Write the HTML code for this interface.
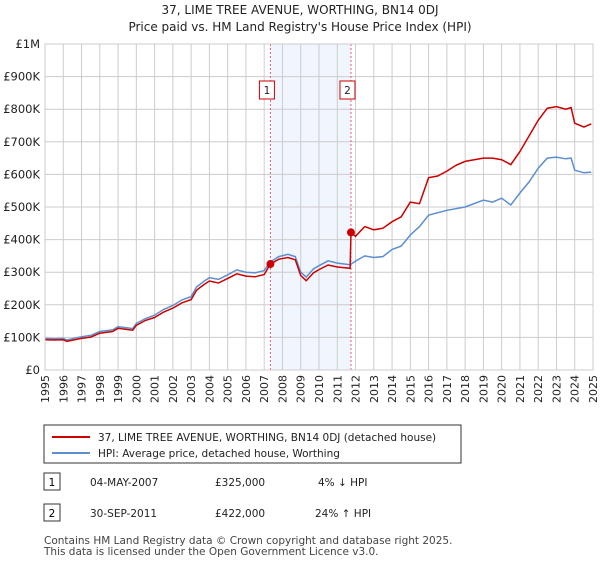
<!DOCTYPE html>
<html><head><meta charset="utf-8"><style>
body{margin:0;background:#fff;font-family:"Liberation Sans","DejaVu Sans",sans-serif;}
svg text{font-family:"DejaVu Sans","Liberation Sans",sans-serif;}
</style></head><body>
<svg width="600" height="560" viewBox="0 0 600 560" xmlns="http://www.w3.org/2000/svg">
<text x="300" y="14" text-anchor="middle" font-size="12" fill="#222">37, LIME TREE AVENUE, WORTHING, BN14 0DJ</text>
<text x="300" y="31" text-anchor="middle" font-size="12" fill="#222">Price paid vs. HM Land Registry's House Price Index (HPI)</text>
<g id="plot"></g>
<rect x="44" y="425" width="417" height="38" fill="#fff" stroke="#333"/>
<line x1="52" y1="437" x2="90" y2="437" stroke="#cc0000" stroke-width="2"/>
<text x="98" y="441" font-size="10.5" fill="#222">37, LIME TREE AVENUE, WORTHING, BN14 0DJ (detached house)</text>
<line x1="52" y1="453" x2="90" y2="453" stroke="#5b8fd0" stroke-width="2"/>
<text x="98" y="457" font-size="10.5" fill="#222">HPI: Average price, detached house, Worthing</text>
<rect x="44" y="473" width="16" height="17" fill="#fff" stroke="#333"/>
<text x="52" y="486" text-anchor="middle" font-size="10.5">1</text>
<text x="90" y="486" font-size="10.5" fill="#222">04-MAY-2007</text>
<text x="215" y="486" font-size="10.5" fill="#222">£325,000</text>
<text x="318" y="486" font-size="10.5" fill="#222">4% ↓ HPI</text>
<rect x="44" y="504" width="16" height="17" fill="#fff" stroke="#333"/>
<text x="52" y="517" text-anchor="middle" font-size="10.5">2</text>
<text x="90" y="517" font-size="10.5" fill="#222">30-SEP-2011</text>
<text x="215" y="517" font-size="10.5" fill="#222">£422,000</text>
<text x="315" y="517" font-size="10.5" fill="#222">24% ↑ HPI</text>
<text x="44" y="544" font-size="10.5" fill="#444">Contains HM Land Registry data © Crown copyright and database right 2025.</text>
<text x="44" y="555" font-size="10.5" fill="#444">This data is licensed under the Open Government Licence v3.0.</text>
</svg>
<script>
const yTicks=[0,100,200,300,400,500,600,700,800,900,1000];
const yTickLabels=["£0","£100K","£200K","£300K","£400K","£500K","£600K","£700K","£800K","£900K","£1M"];
const xTicks=[1995,1996,1997,1998,1999,2000,2001,2002,2003,2004,2005,2006,2007,2008,2009,2010,2011,2012,2013,2014,2015,2016,2017,2018,2019,2020,2021,2022,2023,2024,2025];
const hpiYears=[1995,1995.5,1996,1996.2,1997,1997.5,1998,1998.7,1999,1999.8,2000,2000.5,2001,2001.5,2002,2002.5,2003,2003.3,2003.7,2004,2004.5,2005,2005.5,2006,2006.5,2007,2007.3,2007.8,2008.3,2008.7,2009,2009.3,2009.7,2010,2010.5,2011,2011.7,2012,2012.5,2013,2013.5,2014,2014.5,2015,2015.5,2016,2017,2018,2019,2019.5,2020,2020.5,2021,2021.5,2022,2022.5,2023,2023.5,2023.8,2024,2024.5,2024.9];
const hpiValues=[97,96,97,92,102,106,118,123,133,127,143,158,168,186,198,215,225,255,272,283,278,292,307,300,298,305,330,348,355,348,300,285,310,320,335,328,323,334,350,345,348,370,380,414,440,475,490,500,521,515,527,506,543,577,619,650,653,648,650,613,605,607];
const priceYears=[1995,1995.5,1996,1996.2,1997,1997.5,1998,1998.7,1999,1999.8,2000,2000.5,2001,2001.5,2002,2002.5,2003,2003.3,2003.7,2004,2004.5,2005,2005.5,2006,2006.5,2007,2007.34,2007.8,2008.3,2008.7,2009,2009.3,2009.7,2010,2010.5,2011,2011.7,2011.75,2012,2012.5,2013,2013.5,2014,2014.5,2015,2015.5,2016,2016.5,2017,2017.5,2018,2019,2019.5,2020,2020.5,2021,2021.5,2022,2022.5,2023,2023.5,2023.8,2024,2024.5,2024.9];
const priceValues=[93,92,93,88,97,101,113,118,128,122,137,152,161,178,190,206,216,245,262,273,267,281,295,288,286,293,325,340,345,338,290,274,298,308,322,316,312,422,410,440,430,435,455,470,515,510,590,595,610,628,640,650,650,645,630,670,718,766,803,808,800,805,757,745,755];
const saleYears=[2007.34,2011.75];
const saleValues=[325,422];
const saleLabels=["1","2"];
const NS="http://www.w3.org/2000/svg";
const L=45,R=593,T=44,B=370;
const xs=y=>L+(y-1995)/30*(R-L);
const ys=v=>B-v/1000*(B-T);
const g=document.getElementById('plot');
function mk(t,a){const e=document.createElementNS(NS,t);for(const k in a)e.setAttribute(k,a[k]);g.appendChild(e);return e;}
let e=mk('rect',{x:xs(saleYears[0]),y:T,width:xs(saleYears[1])-xs(saleYears[0]),height:B-T,fill:'#eef3fc',opacity:0.8});


xTicks.forEach(t=>{const x=xs(t);
 let l=mk('line',{x1:x,y1:T,x2:x,y2:B,stroke:'#ccc'});
 
 
 let tx=mk('text',{x:0,y:0,'font-size':11,fill:'#222','text-anchor':'end',transform:`translate(${x+4},${B+5}) rotate(-90)`});
 tx.textContent=t;
 
 
});
yTicks.forEach((t,i)=>{const y=ys(t);
 let l=mk('line',{x1:L,y1:y,x2:R,y2:y,stroke:'#ccc'});
 
 
 let tx=mk('text',{x:L-5,y:y+4,'font-size':11.5,fill:'#222','text-anchor':'end'});
 tx.textContent=yTickLabels[i];
 
 
});
saleYears.forEach(s=>{let l=mk('line',{x1:xs(s),y1:T,x2:xs(s),y2:B,stroke:'#e06070','stroke-dasharray':'2,2'});
 
 });
function path(xa,va,c,n){const d=xa.map((x,i)=>(i?'L':'M')+xs(x).toFixed(1)+','+ys(va[i]).toFixed(1)).join('');
 let p=mk('path',{d:d,fill:'none',stroke:c,'stroke-width':1.5});
 
 }
path(hpiYears,hpiValues,'#5b8fd0','hpi-line');
path(priceYears,priceValues,'#cc0000','price-line');
saleYears.forEach((s,i)=>{
 let c=mk('circle',{cx:xs(s),cy:ys(saleValues[i]),r:4,fill:'#cc0000'});
 
 
 let r=mk('rect',{x:xs(s)-11,y:81,width:15,height:18,fill:'#fff',stroke:'#cc0000'});
 
 
 let t=mk('text',{x:xs(s)-3.5,y:94,'font-size':10.5,'text-anchor':'middle',fill:'#222'});
 t.textContent=saleLabels[i];
 
 
});
let ax=mk('rect',{x:L,y:T,width:R-L,height:B-T,fill:'none',stroke:'#ccc'});


</script>
</body></html>
